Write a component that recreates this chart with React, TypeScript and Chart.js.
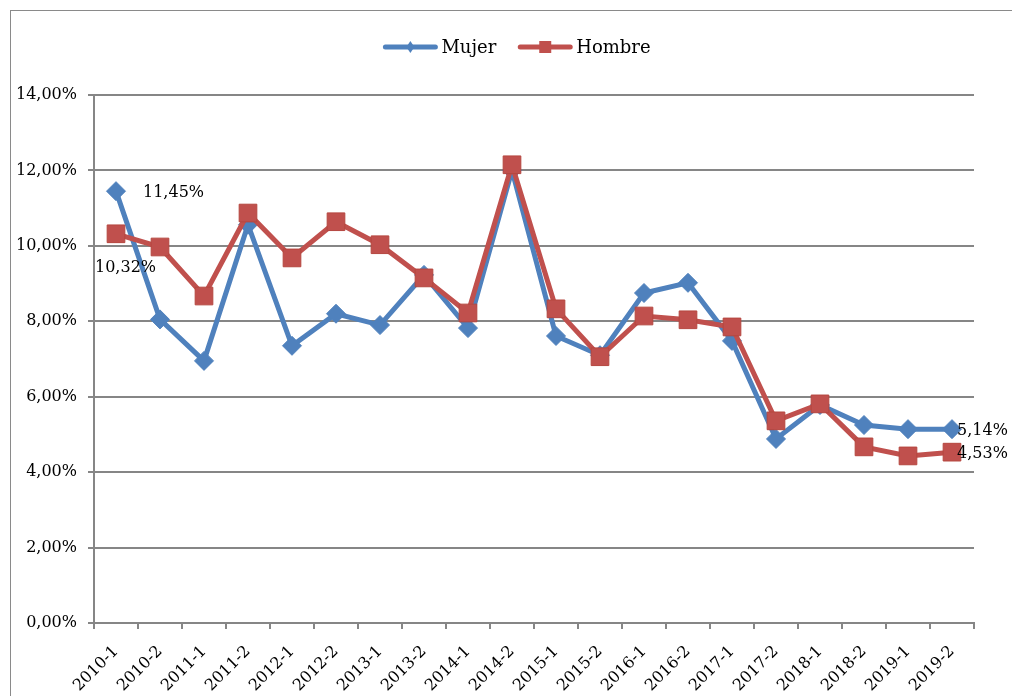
import React, { useEffect, useRef } from "react";
import { Chart, registerables } from "chart.js";

Chart.register(...registerables);

const categories = [
  "2010-1", "2010-2", "2011-1", "2011-2", "2012-1", "2012-2", "2013-1", "2013-2",
  "2014-1", "2014-2", "2015-1", "2015-2", "2016-1", "2016-2", "2017-1", "2017-2",
  "2018-1", "2018-2", "2019-1", "2019-2",
];

const mujer = [
  11.45, 8.05, 6.95, 10.56, 7.35, 8.2, 7.9, 9.23, 7.82, 12.0,
  7.61, 7.1, 8.75, 9.02, 7.48, 4.88, 5.78, 5.25, 5.14, 5.14,
];

const hombre = [
  10.32, 9.97, 8.67, 10.87, 9.68, 10.64, 10.03, 9.15, 8.22, 12.15,
  8.33, 7.06, 8.14, 8.04, 7.85, 5.36, 5.81, 4.67, 4.43, 4.53,
];

const yMin = 0;
const yMax = 14;
const yStep = 2;

const BLUE = "#4F81BD";
const RED = "#C0504D";
const GRID = "#868686";
const SERIF = "'DejaVu Serif', serif";

// which data points get a value label, and how the label sits next to the point
const labelSpecs = [
  { ds: 0, idx: 0, dx: 27, dy: 2, align: "left" as CanvasTextAlign },
  { ds: 1, idx: 0, dx: -21, dy: 34, align: "left" as CanvasTextAlign },
  { ds: 0, idx: 19, dx: 5, dy: 2, align: "left" as CanvasTextAlign },
  { ds: 1, idx: 19, dx: 5, dy: 2, align: "left" as CanvasTextAlign },
];

const fmt = (v: number) => v.toFixed(2).replace(".", ",") + "%";

const framePlugin = {
  id: "frame",
  beforeDraw(chart: any) {
    const ctx = chart.ctx;
    ctx.save();
    ctx.fillStyle = "#ffffff";
    ctx.fillRect(0, 0, chart.width, chart.height);
    ctx.strokeStyle = "#8a8a8a";
    ctx.lineWidth = 1;
    ctx.strokeRect(10.5, 10.5, 1100, 1100);
    ctx.restore();
  },
};

const legendPlugin = {
  id: "customLegend",
  afterDraw(chart: any) {
    const ctx = chart.ctx;
    ctx.save();
    ctx.font = `18px ${SERIF}`;
    ctx.textBaseline = "middle";
    const lineW = 54;
    const gapText = 4;
    const gapItem = 22;
    const items = chart.data.datasets.map((d: any) => ({
      label: d.label,
      color: d.borderColor,
      style: d.pointStyle,
      w: lineW + gapText + ctx.measureText(d.label).width,
    }));
    const total = items.reduce((s: number, it: any) => s + it.w, 0) + gapItem * (items.length - 1);
    const center = (10 + 1024) / 2;
    let x = center - total / 2;
    const y = 47;
    items.forEach((it: any) => {
      ctx.strokeStyle = it.color;
      ctx.lineWidth = 5;
      ctx.lineCap = "round";
      ctx.beginPath();
      ctx.moveTo(x + 2, y);
      ctx.lineTo(x + lineW - 2, y);
      ctx.stroke();
      ctx.fillStyle = it.color;
      const cx = x + lineW / 2;
      ctx.beginPath();
      if (it.style === "rectRot") {
        ctx.moveTo(cx, y - 6);
        ctx.lineTo(cx + 4, y);
        ctx.lineTo(cx, y + 6);
        ctx.lineTo(cx - 4, y);
        ctx.closePath();
      } else {
        ctx.rect(cx - 6, y - 6, 12, 12);
      }
      ctx.fill();
      ctx.fillStyle = "#000";
      ctx.textAlign = "left";
      ctx.fillText(it.label, x + lineW + gapText, y + 1);
      x += it.w + gapItem;
    });
    ctx.restore();
  },
};

const valueLabelPlugin = {
  id: "valueLabels",
  afterDatasetsDraw(chart: any) {
    const ctx = chart.ctx;
    ctx.save();
    ctx.font = `16px ${SERIF}`;
    ctx.fillStyle = "#000";
    ctx.textBaseline = "middle";
    labelSpecs.forEach((s) => {
      const meta = chart.getDatasetMeta(s.ds);
      const el = meta.data[s.idx];
      if (!el) return;
      const v = chart.data.datasets[s.ds].data[s.idx];
      ctx.textAlign = s.align;
      ctx.fillText(fmt(v), el.x + s.dx, el.y + s.dy);
    });
    ctx.restore();
  },
};

export default function App() {
  const ref = useRef<HTMLCanvasElement | null>(null);

  useEffect(() => {
    if (!ref.current) return;
    const chart = new Chart(ref.current, {
      type: "line",
      data: {
        labels: categories,
        datasets: [
          {
            label: "Mujer",
            data: mujer,
            borderColor: BLUE,
            backgroundColor: BLUE,
            borderWidth: 5,
            pointStyle: "rectRot",
            pointRadius: 9.5,
            pointBorderWidth: 1,
            pointBackgroundColor: BLUE,
            pointBorderColor: BLUE,
            order: 1,
            tension: 0,
          },
          {
            label: "Hombre",
            data: hombre,
            borderColor: RED,
            backgroundColor: RED,
            borderWidth: 5,
            pointStyle: "rect",
            pointRadius: 12.5,
            pointBorderWidth: 1,
            pointBackgroundColor: RED,
            pointBorderColor: "#B5463F",
            order: 0,
            tension: 0,
          },
        ],
      },
      options: {
        animation: false,
        responsive: false,
        layout: { padding: { top: 95, right: 38, left: 0, bottom: 0 } },
        plugins: {
          legend: { display: false },
          tooltip: { enabled: false },
          title: { display: false },
        },
        scales: {
          x: {
            type: "category",
            offset: true,
            grid: {
              offset: true,
              drawOnChartArea: false,
              drawTicks: true,
              tickLength: 6,
              color: GRID,
              lineWidth: 2,
            },
            border: { display: true, color: GRID, width: 2 },
            ticks: {
              autoSkip: false,
              minRotation: 45,
              maxRotation: 45,
              color: "#000",
              font: { family: SERIF, size: 16 },
              padding: 13,
            },
            afterFit(scale: any) {
              scale.height = 73;
            },
          },
          y: {
            min: yMin,
            max: yMax,
            grid: {
              color: GRID,
              lineWidth: 2,
              drawTicks: true,
              tickLength: 6,
            },
            border: { display: true, color: GRID, width: 2 },
            ticks: {
              stepSize: yStep,
              color: "#000",
              font: { family: SERIF, size: 16 },
              padding: 11,
              callback: (v: any) => fmt(Number(v)),
            },
            afterFit(scale: any) {
              scale.width = 94;
            },
          },
        },
      },
      plugins: [framePlugin, legendPlugin, valueLabelPlugin],
    });
    return () => chart.destroy();
  }, []);

  return (
    <div style={{ position: "fixed", left: 0, top: 0, width: 1012, height: 696 }}>
      <canvas ref={ref} width={1012} height={696} />
    </div>
  );
}
